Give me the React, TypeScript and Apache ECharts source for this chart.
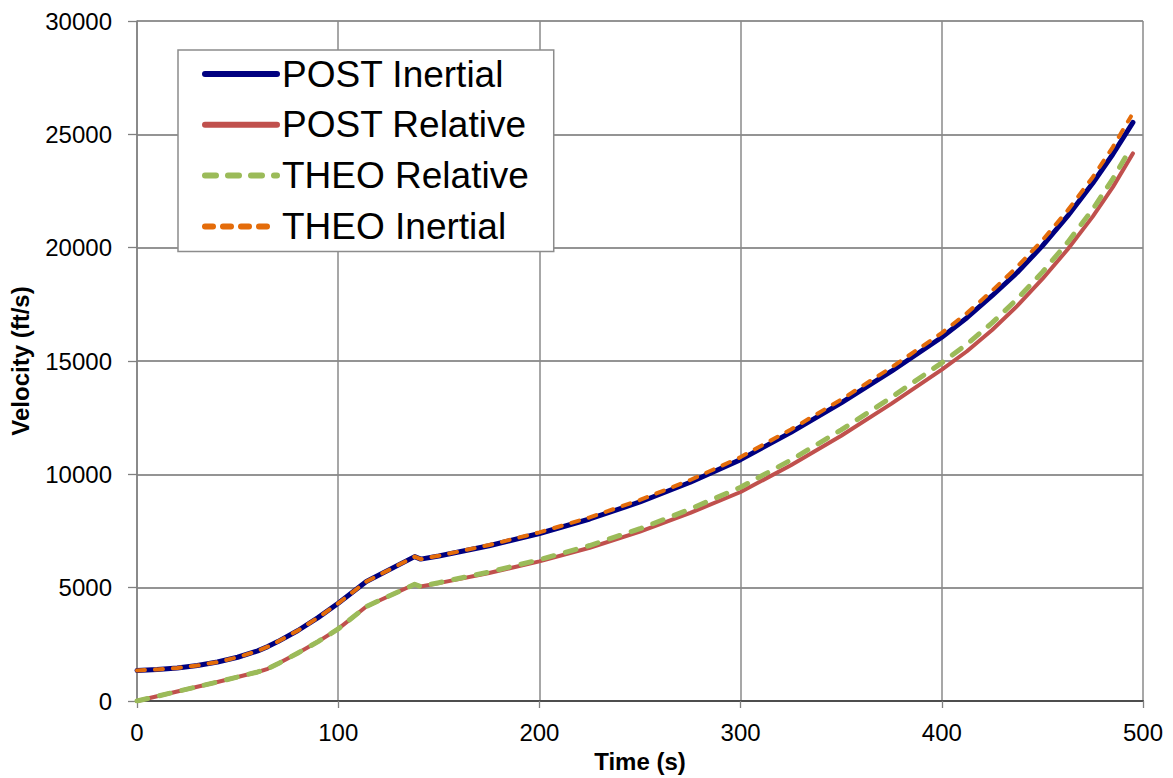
import React, { useEffect, useRef } from "react";
import * as echarts from "echarts";

const timeS = [0, 10, 20, 30, 40, 50, 60, 65, 70, 80, 90, 100, 114, 138, 141, 150, 175, 200, 225, 250, 275, 300, 325, 350, 375, 400, 412.5, 425, 437.5, 450, 462.5, 475, 485, 495];
const timeTheo = [0, 10, 20, 30, 40, 50, 60, 65, 70, 80, 90, 100, 114, 138, 141, 150, 175, 200, 225, 250, 275, 300, 325, 350, 375, 400, 412.5, 425, 437.5, 450, 462.5, 475, 485, 494];

const postInertial = [1350, 1390, 1460, 1570, 1720, 1930, 2210, 2400, 2620, 3110, 3680, 4310, 5270, 6370, 6260, 6400, 6850, 7390, 8030, 8780, 9650, 10650, 11850, 13150, 14550, 16050, 16910, 17880, 18905, 20080, 21390, 22840, 24120, 25530];
const postRelative = [0, 210, 420, 630, 840, 1060, 1280, 1420, 1640, 2120, 2620, 3180, 4170, 5150, 5050, 5200, 5650, 6160, 6760, 7470, 8300, 9220, 10400, 11700, 13120, 14620, 15430, 16370, 17430, 18620, 19920, 21370, 22670, 24160];
const theoRelative = [0, 210, 420, 630, 840, 1060, 1280, 1420, 1640, 2120, 2620, 3180, 4170, 5150, 5050, 5220, 5690, 6230, 6860, 7600, 8470, 9430, 10630, 11960, 13400, 14920, 15745, 16680, 17740, 18920, 20230, 21690, 23040, 24400];
const theoInertial = [1350, 1390, 1460, 1570, 1720, 1930, 2210, 2400, 2620, 3110, 3680, 4310, 5270, 6370, 6260, 6410, 6880, 7440, 8100, 8870, 9750, 10760, 11980, 13300, 14720, 16240, 17115, 18100, 19160, 20330, 21640, 23110, 24440, 25790];

const seriesNames = ["POST Inertial", "POST Relative", "THEO Relative", "THEO Inertial"];

const pairs = (xs: number[], ys: number[]) => xs.map((x, i) => [x, ys[i]]);

const FONT = 'Arial, "Liberation Sans", sans-serif';

export default function App() {
  const ref = useRef<HTMLDivElement>(null);
  useEffect(() => {
    document.body.style.margin = "0";
    if (!ref.current) return;
    const chart = echarts.init(ref.current, undefined, { renderer: "svg" });
    const lineCommon = { type: "line", symbol: "none", showSymbol: false, smooth: false };
    chart.setOption({
      animation: false,
      backgroundColor: "#ffffff",
      grid: { left: 137, right: 30, top: 21, bottom: 75, containLabel: false },
      legend: {
        orient: "vertical",
        left: 178,
        top: 50,
        data: seriesNames,
        itemWidth: 72,
        itemHeight: 40,
        itemGap: 10.8,
        padding: [4, 25, 5, 24],
        backgroundColor: "#ffffff",
        borderColor: "#8c8c8c",
        borderWidth: 1.5,
        borderRadius: 0,
        itemStyle: { opacity: 0 },
        lineStyle: { width: 6, cap: "round" },
        textStyle: { fontFamily: FONT, fontSize: 37, color: "#000", lineHeight: 40 },
        selectedMode: false,
      },
      xAxis: {
        type: "value",
        min: 0,
        max: 500,
        interval: 100,
        name: "Time (s)",
        nameLocation: "middle",
        nameGap: 48,
        nameTextStyle: { fontFamily: FONT, fontSize: 24, fontWeight: "bold", color: "#000" },
        axisLine: { show: true, onZero: false, lineStyle: { color: "#4d4d4d", width: 2 } },
        axisTick: { show: true, length: 7, lineStyle: { color: "#808080", width: 1.3 } },
        axisLabel: { fontFamily: FONT, fontSize: 24, color: "#000", margin: 19, formatter: (v: number) => String(v) },
        splitLine: { show: true, lineStyle: { color: "#8a8a8a", width: 1.5 } },
      },
      yAxis: {
        type: "value",
        min: 0,
        max: 30000,
        interval: 5000,
        name: "Velocity (ft/s)",
        nameLocation: "middle",
        nameGap: 105,
        nameTextStyle: { fontFamily: FONT, fontSize: 24, fontWeight: "bold", color: "#000" },
        axisLine: { show: true, lineStyle: { color: "#808080", width: 1.5 } },
        axisTick: { show: true, length: 9, lineStyle: { color: "#808080", width: 1.3 } },
        axisLabel: { fontFamily: FONT, fontSize: 24, color: "#000", margin: 25, formatter: (v: number) => String(v) },
        splitLine: { show: true, lineStyle: { color: "#707070", width: 1.5 } },
      },
      series: [
        {
          ...lineCommon,
          name: seriesNames[0],
          data: pairs(timeS, postInertial),
          lineStyle: { color: "#000080", width: 5, cap: "round", join: "round" },
          itemStyle: { color: "#000080" },
        },
        {
          ...lineCommon,
          name: seriesNames[1],
          data: pairs(timeS, postRelative),
          lineStyle: { color: "#C0504D", width: 4, cap: "round", join: "round" },
          itemStyle: { color: "#C0504D" },
        },
        {
          ...lineCommon,
          name: seriesNames[2],
          data: pairs(timeTheo, theoRelative),
          lineStyle: { color: "#9BBB59", width: 5, type: [11, 12], cap: "round", join: "round" },
          itemStyle: { color: "#9BBB59" },
        },
        {
          ...lineCommon,
          name: seriesNames[3],
          data: pairs(timeTheo, theoInertial),
          lineStyle: { color: "#E46C0A", width: 4, type: [8, 10], cap: "round", join: "round" },
          itemStyle: { color: "#E46C0A" },
        },
      ],
    });
    return () => chart.dispose();
  }, []);
  return <div ref={ref} style={{ width: 1173, height: 778 }} />;
}
